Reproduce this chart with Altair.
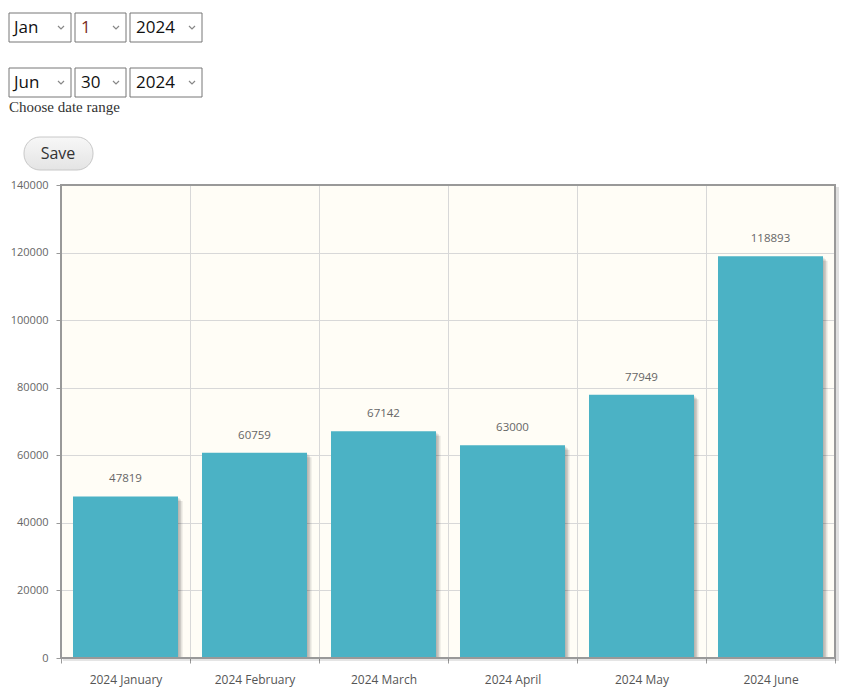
import altair as alt
import pandas as pd

# ---- chart data ----
months = ["2024 January", "2024 February", "2024 March", "2024 April", "2024 May", "2024 June"]
totals = [47819, 60759, 67142, 63000, 77949, 118893]
y_ticks = [0, 20000, 40000, 60000, 80000, 100000, 120000, 140000]

# ---- form (decoration above the chart) ----
start_date = ["Jan", "1", "2024"]
end_date = ["Jun", "30", "2024"]
range_caption = "Choose date range"
button_label = "Save"

df = pd.DataFrame({"month": months, "total": totals})
dummy = pd.DataFrame({"a": [0]})

W, H = 774, 473
BAR_BAND = 0.814
BAR_COLOR = "#4bb2c5"

x_enc = alt.X("month:N", sort=months, title=None,
              scale=alt.Scale(paddingInner=0, paddingOuter=0),
              axis=alt.Axis(labelAngle=0, tickBand="extent", grid=True, domain=False,
                            tickSize=5, tickColor="#999999", labelPadding=11,
                            labelFont="Open Sans", labelFontSize=12, labelColor="#555555",
                            gridColor="#d8d8d8"))
y_enc = alt.Y("total:Q", title=None,
              scale=alt.Scale(domain=[0, 140000], nice=False),
              axis=alt.Axis(values=y_ticks, format="d", domain=False, tickSize=5,
                            tickColor="#999999", labelPadding=8, labelFont="Open Sans",
                            labelFontSize=11, labelColor="#666666", gridColor="#d8d8d8"))

base = alt.Chart(df)

shadows = [
    base.mark_bar(color="#000000", opacity=0.1, width={"band": BAR_BAND},
                  xOffset=o, yOffset=o, clip=True).encode(x=x_enc, y=y_enc)
    for o in (1.5, 3, 4.5)
]
bars = base.mark_bar(color=BAR_COLOR, width={"band": BAR_BAND}).encode(x=x_enc, y=y_enc)
labels = base.mark_text(dy=-17, font="Open Sans", fontSize=11.5, color="#666666",
                        baseline="middle").encode(x=x_enc, y=y_enc, text=alt.Text("total:Q", format="d"))

# plot border and its shadow (right and bottom)
border_shadow_r = alt.Chart(dummy).mark_rule(color="#000000", opacity=0.12, strokeWidth=3).encode(
    x=alt.value(W + 2.5), y=alt.value(2), y2=alt.value(H + 3))
border_shadow_b = alt.Chart(dummy).mark_rule(color="#000000", opacity=0.1, strokeWidth=2).encode(
    x=alt.value(2), x2=alt.value(W + 1), y=alt.value(H + 2))
border = [
    alt.Chart(dummy).mark_rule(color="#999999", strokeWidth=2).encode(
        x=alt.value(0), y=alt.value(-1), y2=alt.value(H + 1)),
    alt.Chart(dummy).mark_rule(color="#999999", strokeWidth=2).encode(
        x=alt.value(W), y=alt.value(-1), y2=alt.value(H + 1)),
    alt.Chart(dummy).mark_rule(color="#999999", strokeWidth=2).encode(
        x=alt.value(-1), x2=alt.value(W + 1), y=alt.value(0)),
    alt.Chart(dummy).mark_rule(color="#999999", strokeWidth=2).encode(
        x=alt.value(-1), x2=alt.value(W + 1), y=alt.value(H)),
]

# ---- form decoration (pixel layout relative to plot origin) ----
box_x = [(-52, 10), (14, 65), (69, 141)]
row_y = [(-172, -143), (-117, -88)]
text_x = [-47, 20, 75]
chev_x = [0, 55, 131]
form_layers = []
for r, vals in enumerate([start_date, end_date]):
    y0, y1 = row_y[r]
    yc = (y0 + y1) / 2
    for i, v in enumerate(vals):
        x0, x1 = box_x[i]
        form_layers.append(alt.Chart(dummy).mark_rect(fill="white", stroke="#767676", strokeWidth=1).encode(
            x=alt.value(x0), x2=alt.value(x1), y=alt.value(y0), y2=alt.value(y1)))
        col = "#7a2c1e" if (r == 0 and i == 1) else "#111111"
        form_layers.append(alt.Chart(dummy).mark_text(text=v, align="left", baseline="middle",
                                                      font="Open Sans", fontSize=17, color=col).encode(
            x=alt.value(text_x[i]), y=alt.value(yc)))
        form_layers.append(alt.Chart(dummy).mark_point(shape="M-1,-0.5L0,0.5L1,-0.5", filled=False,
                                                       size=36, color="#555555", strokeWidth=1.2).encode(
            x=alt.value(chev_x[i]), y=alt.value(yc)))

form_layers.append(alt.Chart(dummy).mark_text(text=range_caption, align="left", baseline="middle",
                                              font="Liberation Serif", fontSize=15, color="#333333").encode(
    x=alt.value(-52), y=alt.value(-78)))
form_layers.append(alt.Chart(dummy).mark_rect(
    cornerRadius=16, stroke="#c8c8c8", strokeWidth=1,
    fill=alt.Gradient(gradient="linear", x1=0, y1=0, x2=0, y2=1,
                      stops=[alt.GradientStop(color="#f7f7f7", offset=0),
                             alt.GradientStop(color="#e4e4e4", offset=1)])).encode(
    x=alt.value(-37), x2=alt.value(32), y=alt.value(-48), y2=alt.value(-15)))
form_layers.append(alt.Chart(dummy).mark_text(text=button_label, align="center", baseline="middle",
                                              font="Open Sans", fontSize=16, color="#333333").encode(
    x=alt.value(-3), y=alt.value(-31.5)))

chart = alt.layer(*shadows, bars, labels, border_shadow_r, border_shadow_b, *border,
                  *form_layers).properties(
    width=W, height=H,
    autosize=alt.AutoSizeParams(type="none"),
    padding={"left": 61, "top": 185, "right": 15, "bottom": 29},
    background="white",
).configure_view(
    fill="#fffdf6", stroke=None
)

chart.save("out.html", embed_options={"renderer": "svg", "actions": False})
